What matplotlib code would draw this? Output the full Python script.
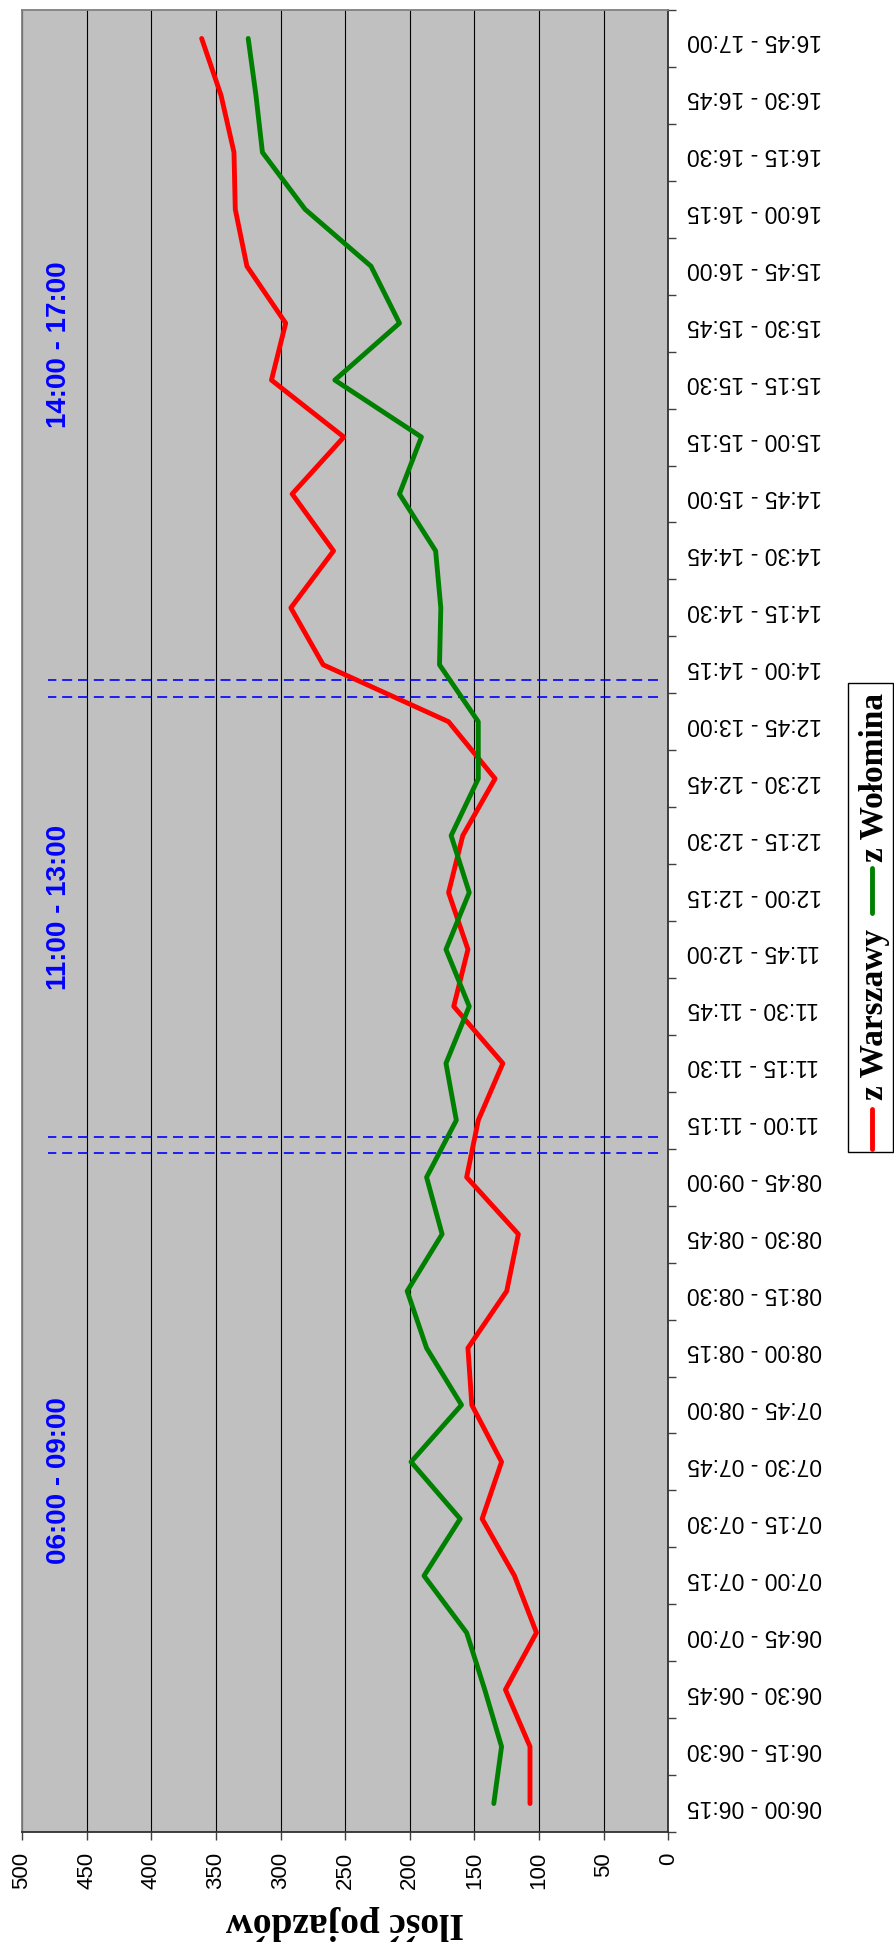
import matplotlib
matplotlib.use('Agg')
import matplotlib.pyplot as plt
from matplotlib import font_manager as fm
from matplotlib.lines import Line2D
from matplotlib.patches import Rectangle
import numpy as np

periods = ['06:00 - 06:15', '06:15 - 06:30', '06:30 - 06:45', '06:45 - 07:00',
           '07:00 - 07:15', '07:15 - 07:30', '07:30 - 07:45', '07:45 - 08:00',
           '08:00 - 08:15', '08:15 - 08:30', '08:30 - 08:45', '08:45 - 09:00',
           '11:00 - 11:15', '11:15 - 11:30', '11:30 - 11:45', '11:45 - 12:00',
           '12:00 - 12:15', '12:15 - 12:30', '12:30 - 12:45', '12:45 - 13:00',
           '14:00 - 14:15', '14:15 - 14:30', '14:30 - 14:45', '14:45 - 15:00',
           '15:00 - 15:15', '15:15 - 15:30', '15:30 - 15:45', '15:45 - 16:00',
           '16:00 - 16:15', '16:15 - 16:30', '16:30 - 16:45', '16:45 - 17:00']
z_warszawy = [107, 107, 126, 102, 119, 144, 129, 152, 155, 125, 116, 156,
              147, 128, 166, 155, 170, 159, 134, 170,
              267, 292, 259, 291, 251, 307, 296, 326, 335, 336, 346, 361]
z_wolomina = [135, 129, 142, 156, 189, 161, 199, 160, 187, 202, 175, 187,
              164, 172, 154, 172, 154, 168, 147, 147,
              177, 176, 180, 208, 191, 258, 208, 230, 281, 314, 319, 325]
series_names = ['z Warszawy', 'z Wołomina']
series_colors = ['#FF0000', '#008000']
period_labels = ['06:00 - 09:00', '11:00 - 13:00', '14:00 - 17:00']
period_pos = [5.68, 15.74, 25.63]
separators = [11.42, 11.70, 19.44, 19.73]


def font(fname, family, weight, size):
    # pick the exact Liberation file, not the Narrow variant
    for f in fm.findSystemFonts():
        if f.endswith(fname):
            return fm.FontProperties(fname=f, size=size)
    return fm.FontProperties(family=family, weight=weight, size=size)


sans = lambda s: font('LiberationSans-Regular.ttf', 'sans-serif', 'normal', s)
sans_b = lambda s: font('LiberationSans-Bold.ttf', 'sans-serif', 'bold', s)
serif_b = lambda s: font('LiberationSerif-Bold.ttf', 'serif', 'bold', s)

W, H = 894, 1946
fig = plt.figure(figsize=(W / 100, H / 100), dpi=100)
ax = fig.add_axes([22 / W, 114 / H, 646.3 / W, 1822 / H])
ax.set_facecolor('#C0C0C0')

pos = np.arange(len(periods))
for vals, c in zip([z_warszawy, z_wolomina], series_colors):
    ax.plot(vals, pos, color=c, lw=3.5, solid_capstyle='round', zorder=4)

ax.hlines(separators, 8, 480, colors='#0000FF', linestyles=(0, (6, 3.5)), lw=1.2, zorder=3)
for lbl, p in zip(period_labels, period_pos):
    ax.text(471, p, lbl, rotation=90, ha='center', va='center', color='#0000FF',
            fontproperties=sans_b(20), zorder=5)

ax.set_xlim(500, 0)
ax.set_ylim(-0.5, len(periods) - 0.5)
ax.set_xticks(np.arange(0, 501, 50))
ax.set_xticklabels([str(v) for v in range(0, 501, 50)], rotation=90,
                   fontproperties=sans(16))
ax.xaxis.grid(True, color='black', lw=0.8)
ax.set_axisbelow(True)

ax.yaxis.tick_right()
ax.set_yticks(np.arange(-0.5, len(periods)))
ax.set_yticklabels([])
ax.set_yticks(pos, minor=True)
ax.set_yticklabels(periods, minor=True, rotation=180, fontproperties=sans(16.5))
ax.tick_params(axis='y', which='major', length=5.5, width=1, color='#404040', direction='out')
ax.tick_params(axis='y', which='minor', length=0, pad=13.5)
ax.tick_params(axis='x', length=5.5, width=1, color='#404040', direction='out', pad=9)

for s in ['top', 'left']:
    ax.spines[s].set_color('#808080')
    ax.spines[s].set_linewidth(1.3)
for s in ['right', 'bottom']:
    ax.spines[s].set_color('#303030')
    ax.spines[s].set_linewidth(1.3)

ax.set_xlabel('Ilość pojazdów', rotation=180, fontproperties=serif_b(27), va='top')
ax.xaxis.set_label_coords(0.5, -0.040)

# legend drawn by hand, rotated like the rest of the chart
fx = lambda x: x / W
fy = lambda y: 1 - y / H
fig.patches.append(Rectangle((fx(848), fy(1152)), fx(893) - fx(848), fy(683) - fy(1152),
                             transform=fig.transFigure, facecolor='white',
                             edgecolor='black', lw=1))
handle_y = [(1109, 1149), (868, 913)]
text_y = [1014, 778]
for name, c, (y0, y1), ty in zip(series_names, series_colors, handle_y, text_y):
    fig.add_artist(Line2D([fx(872), fx(872)], [fy(y0), fy(y1)], color=c, lw=3.5,
                          solid_capstyle='round', transform=fig.transFigure))
    fig.text(fx(874), fy(ty), name, rotation=90, ha='center', va='center',
             fontproperties=serif_b(24))

fig.savefig('out.png', dpi=100)
